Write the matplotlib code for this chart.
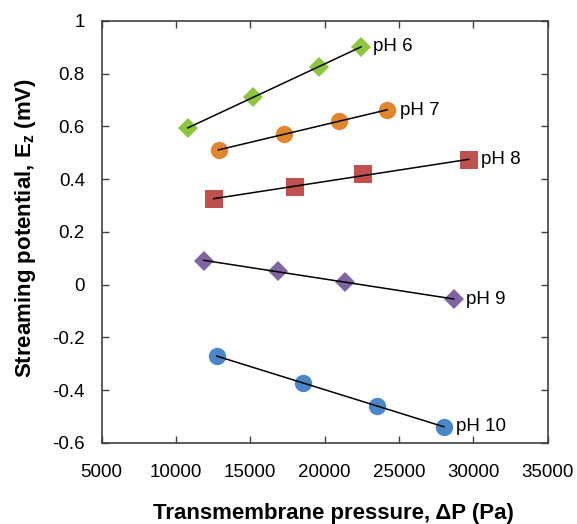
import numpy as np
import matplotlib.pyplot as plt

plt.rcParams['font.family'] = ['Liberation Sans', 'DejaVu Sans']

# pressure (Pa) and streaming potential (mV) per pH
x_ph6 = [10800, 15200, 19650, 22450]
y_ph6 = [0.594, 0.712, 0.825, 0.903]
x_ph7 = [12870, 17300, 20980, 24200]
y_ph7 = [0.510, 0.572, 0.620, 0.662]
x_ph8 = [12540, 18030, 22600, 29700]
y_ph8 = [0.325, 0.372, 0.418, 0.473]
x_ph9 = [11870, 16900, 21380, 28690]
y_ph9 = [0.090, 0.052, 0.008, -0.055]
x_ph10 = [12740, 18570, 23530, 28020]
y_ph10 = [-0.272, -0.372, -0.460, -0.540]

series = [
    ('pH 6', x_ph6, y_ph6, 'D', '#8dc641', 10.5),
    ('pH 7', x_ph7, y_ph7, 'o', '#e0862e', 12.5),
    ('pH 8', x_ph8, y_ph8, 's', '#c0504d', 12.3),
    ('pH 9', x_ph9, y_ph9, 'D', '#8064a2', 10.5),
    ('pH 10', x_ph10, y_ph10, 'o', '#4a86c8', 12.5),
]

fig = plt.figure(figsize=(5.77, 5.24), dpi=100)
ax = fig.add_axes([0.176, 0.155, 0.773, 0.805])

for name, xs, ys, mk, col, ms in series:
    ax.plot(xs, ys, linestyle='none', marker=mk, color=col, markersize=ms,
            markeredgewidth=0, zorder=2)
    # linear trendline
    k, b = np.polyfit(xs, ys, 1)
    xl = np.array([min(xs), max(xs)])
    ax.plot(xl, k * xl + b, color='black', linewidth=1.1, zorder=3)
    ax.annotate(name, (xs[-1], ys[-1]), xytext=(9, 0), textcoords='offset points',
                va='center', ha='left', fontsize=13.5)

ax.set_xlim(5000, 35000)
ax.set_ylim(-0.6, 1.0)
ax.set_xticks(np.arange(5000, 35001, 5000))
ax.set_yticks(np.arange(-0.6, 1.01, 0.2))
ax.set_yticklabels(['-0.6', '-0.4', '-0.2', '0', '0.2', '0.4', '0.6', '0.8', '1'])

for sp in ax.spines.values():
    sp.set_color('#404040')
    sp.set_linewidth(1.2)
ax.tick_params(direction='in', length=5, width=1.0, color='#404040',
               top=True, right=True, labelsize=13.5)
ax.tick_params(axis='x', pad=15)
ax.tick_params(axis='y', pad=12)

ax.set_xlabel('Transmembrane pressure, ΔP (Pa)', fontsize=16, fontweight='bold',
              labelpad=16, x=0.52, ha='center')
ax.set_ylabel('Streaming potential, E$_\\mathregular{z}$ (mV)', fontsize=16,
              fontweight='bold', labelpad=10, y=0.51, ha='center')

fig.savefig('out.png', dpi=100)
